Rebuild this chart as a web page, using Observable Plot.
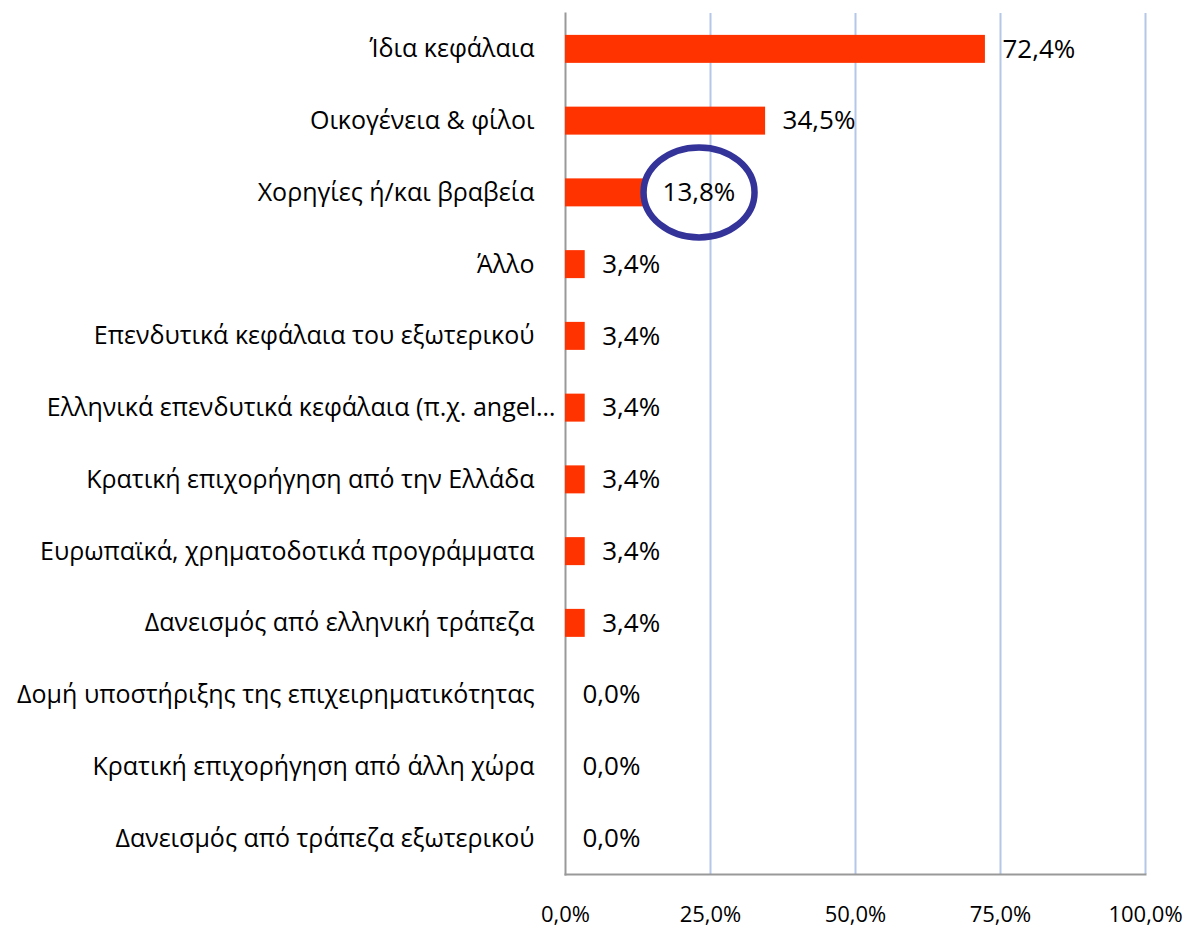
<!DOCTYPE html>
<html>
<head>
<meta charset="utf-8">
<script src="https://cdn.jsdelivr.net/npm/d3@7"></script>
<script src="https://cdn.jsdelivr.net/npm/@observablehq/plot@0.6"></script>
<style>
  html, body { margin: 0; padding: 0; background: #fff; }
  #chart svg { display: block; }
</style>
</head>
<body>
<div id="chart"></div>
<script>
const categories = [
  "Ίδια κεφάλαια",
  "Οικογένεια & φίλοι",
  "Χορηγίες ή/και βραβεία",
  "Άλλο",
  "Επενδυτικά κεφάλαια του εξωτερικού",
  "Ελληνικά επενδυτικά κεφάλαια (π.χ. angel…",
  "Κρατική επιχορήγηση από την Ελλάδα",
  "Ευρωπαϊκά, χρηματοδοτικά προγράμματα",
  "Δανεισμός από ελληνική τράπεζα",
  "Δομή υποστήριξης της επιχειρηματικότητας",
  "Κρατική επιχορήγηση από άλλη χώρα",
  "Δανεισμός από τράπεζα εξωτερικού"
];
const values = [72.4, 34.5, 13.8, 3.4, 3.4, 3.4, 3.4, 3.4, 3.4, 0.0, 0.0, 0.0];
const xTicks = [0, 25, 50, 75, 100];
const highlighted = ["Χορηγίες ή/και βραβεία"];

const data = categories.map((c, i) => ({label: c, value: values[i]}));
const fmt = v => v.toFixed(1).replace(".", ",") + "%";
const FONT = "'Open Sans', sans-serif";

// ellipse annotation anchored on the highlighted bar's value label
function ellipseMark(rows) {
  return Plot.dot(rows, {
    x: "value", y: "label",
    render(index, scales, values, dims, context) {
      const g = d3.create("svg:g");
      const bw = scales.y.bandwidth ? scales.y.bandwidth() : 0;
      for (const i of index) {
        const cx = values.x[i] + 54;
        const cy = values.y[i] + bw / 2;
        g.append("ellipse")
          .attr("cx", cx).attr("cy", cy)
          .attr("rx", 55.5).attr("ry", 45)
          .attr("fill", "none")
          .attr("stroke", "#333399")
          .attr("stroke-width", 6.5);
      }
      return g.node();
    }
  });
}

const chart = Plot.plot({
  width: 1186,
  height: 927,
  marginLeft: 565,
  marginRight: 41,
  marginTop: 13,
  marginBottom: 53,
  style: {fontFamily: FONT, background: "#fff"},
  x: {domain: [0, 100]},
  y: {domain: categories, paddingInner: 0.61, paddingOuter: 0.305, round: false, axis: null},
  marks: [
    Plot.ruleX(xTicks.filter(d => d > 0), {stroke: "#b4c7e7", strokeWidth: 2}),
    Plot.frame({anchor: "bottom", stroke: "#999999", strokeWidth: 2}),
    Plot.frame({anchor: "left", stroke: "#999999", strokeWidth: 2}),
    Plot.barX(data, {x: "value", y: "label", fill: "#ff3300"}),
    Plot.text(data, {x: "value", y: "label", text: d => fmt(d.value), textAnchor: "start", dx: 17, fontSize: 26, fill: "#000"}),
    Plot.text(data.filter(d => !d.label.endsWith("…")), {x: 0, y: "label", text: "label", textAnchor: "end", dx: -31, fontSize: 25, fill: "#000"}),
    Plot.text(data.filter(d => d.label.endsWith("…")), {x: 0, y: "label", text: "label", textAnchor: "end", dx: -10, fontSize: 25, fill: "#000", letterSpacing: 0.3}),
    Plot.axisX({ticks: xTicks, tickFormat: fmt, tickSize: 0, tickPadding: 32, fontSize: 22, fill: "#000", label: null}),
    ellipseMark(data.filter(d => highlighted.includes(d.label)))
  ]
});
document.getElementById("chart").append(chart);
</script>
</body>
</html>
